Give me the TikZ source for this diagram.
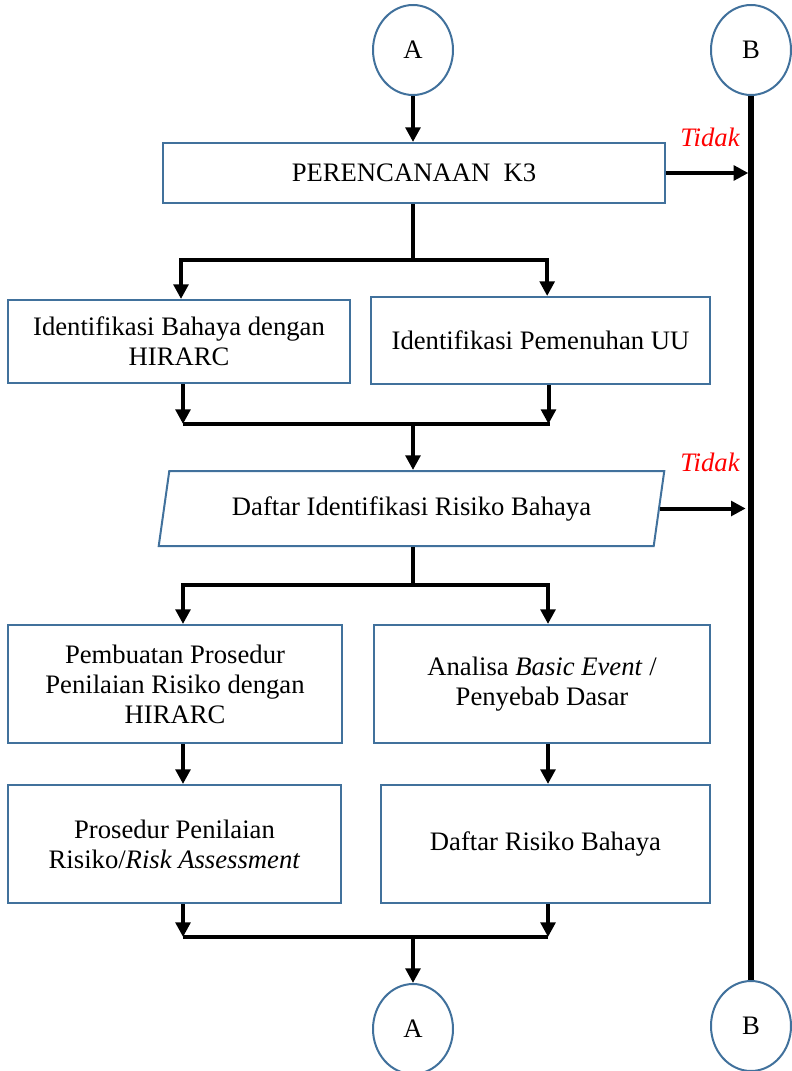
\documentclass[tikz,border=0pt]{standalone}
\usepackage{fontspec}
\setmainfont{Liberation Serif}
\usetikzlibrary{shapes.geometric, arrows.meta}
\definecolor{boxblue}{RGB}{65,113,156}
\newcommand{\flowfont}{\fontsize{20}{22.5}\selectfont}
\tikzstyle{connector} = [ellipse, minimum width=60pt, minimum height=67.5pt, inner sep=0pt, draw=boxblue, line width=1.5pt]
\tikzstyle{process} = [rectangle, inner sep=0pt, text centered, align=center, draw=boxblue, line width=1.5pt]
\tikzstyle{io} = [trapezium, trapezium left angle=76.5, trapezium right angle=103.5, trapezium stretches=true, minimum height=56.25pt, text centered, draw=boxblue, line width=1.5pt]
\tikzstyle{arrow} = [line width=3pt, -{Triangle[width=11pt,length=11pt]}]
\tikzstyle{line} = [line width=3pt]
\tikzstyle{busline} = [line width=4.5pt]
\tikzstyle{tidak} = [text=red, font=\flowfont\itshape]
\begin{document}
\begin{tikzpicture}[x=0.75pt, y=-0.75pt, font=\flowfont]
    \useasboundingbox (0,0) rectangle (792,1071);

    \node (atop) [connector] at (413,50) {A};
    \node (btop) [connector] at (751,50) {B};
    \node (plan) [process, minimum width=376.5pt, minimum height=45pt] at (414,173) {PERENCANAAN~~K3};
    \node (hazid) [process, minimum width=256.5pt, minimum height=62.25pt] at (179,341.5) {Identifikasi Bahaya dengan\\HIRARC};
    \node (lawid) [process, minimum width=254.25pt, minimum height=65.25pt] at (540.5,340.5) {Identifikasi Pemenuhan UU};
    \node (list) [io, minimum width=380pt] at (411.5,508.5) {Daftar Identifikasi Risiko Bahaya};
    \node (proc) [process, minimum width=250.5pt, minimum height=88.5pt] at (175,684) {Pembuatan Prosedur\\Penilaian Risiko dengan\\HIRARC};
    \node (basic) [process, minimum width=252pt, minimum height=88.5pt] at (542,684) {Analisa \textit{Basic Event} /\\Penyebab Dasar};
    \node (assess) [process, minimum width=249.75pt, minimum height=88.5pt] at (174.5,844) {Prosedur Penilaian\\Risiko/\textit{Risk Assessment}};
    \node (risk) [process, minimum width=246.75pt, minimum height=88.5pt] at (545.5,844) {Daftar Risiko Bahaya};
    \node (abot) [connector] at (413,1029) {A};
    \node (bbot) [connector] at (751,1026) {B};
    \node (tidak1) [tidak] at (710,137) {Tidak};
    \node (tidak2) [tidak] at (710,462) {Tidak};

    \coordinate (split1) at (413,260);
    \coordinate (merge1) at (413,424);
    \coordinate (split2) at (413,585);
    \coordinate (merge2) at (413,937);

    % main flow
    \draw [arrow] (atop) -- (atop |- plan.north);
    \draw [line] (split1 |- plan.south) -- (split1);
    \draw [arrow] (split1) -| ([xshift=1.5pt]hazid.north);
    \draw [arrow] (split1) -| ([xshift=5pt]lawid.north);
    \draw [arrow] ([xshift=3pt]hazid.south) -- ([xshift=3pt]hazid.south |- merge1);
    \draw [arrow] ([xshift=6pt]lawid.south) -- ([xshift=6pt]lawid.south |- merge1);
    \draw [line] ([xshift=3pt]hazid.south |- merge1) -- ([xshift=7pt]lawid.south |- merge1);
    \draw [arrow] (merge1) -- (merge1 |- list.north);
    \draw [line] (split2 |- list.south) -- (split2);
    \draw [arrow] (split2) -| ([xshift=6pt]proc.north);
    \draw [arrow] (split2) -| ([xshift=4.5pt]basic.north);
    \draw [arrow] ([xshift=6pt]proc.south) -- ([xshift=6pt]proc.south |- assess.north);
    \draw [arrow] ([xshift=4.5pt]basic.south) -- ([xshift=4.5pt]basic.south |- risk.north);
    \draw [arrow] ([xshift=6.4pt]assess.south) -- ([xshift=6.4pt]assess.south |- merge2);
    \draw [arrow] ([xshift=1.9pt]risk.south) -- ([xshift=1.9pt]risk.south |- merge2);
    \draw [line] ([xshift=6.4pt]assess.south |- merge2) -- ([xshift=1.9pt]risk.south |- merge2);
    \draw [arrow] (merge2) -- (abot);

    % B branch
    \draw [busline] (btop) -- (bbot);
    \draw [arrow, shorten >=2pt] (plan.east) -- (plan.east -| btop);
    \draw [arrow, shorten >=4pt] (list.east) -- (list.east -| btop);

\end{tikzpicture}
\end{document}
